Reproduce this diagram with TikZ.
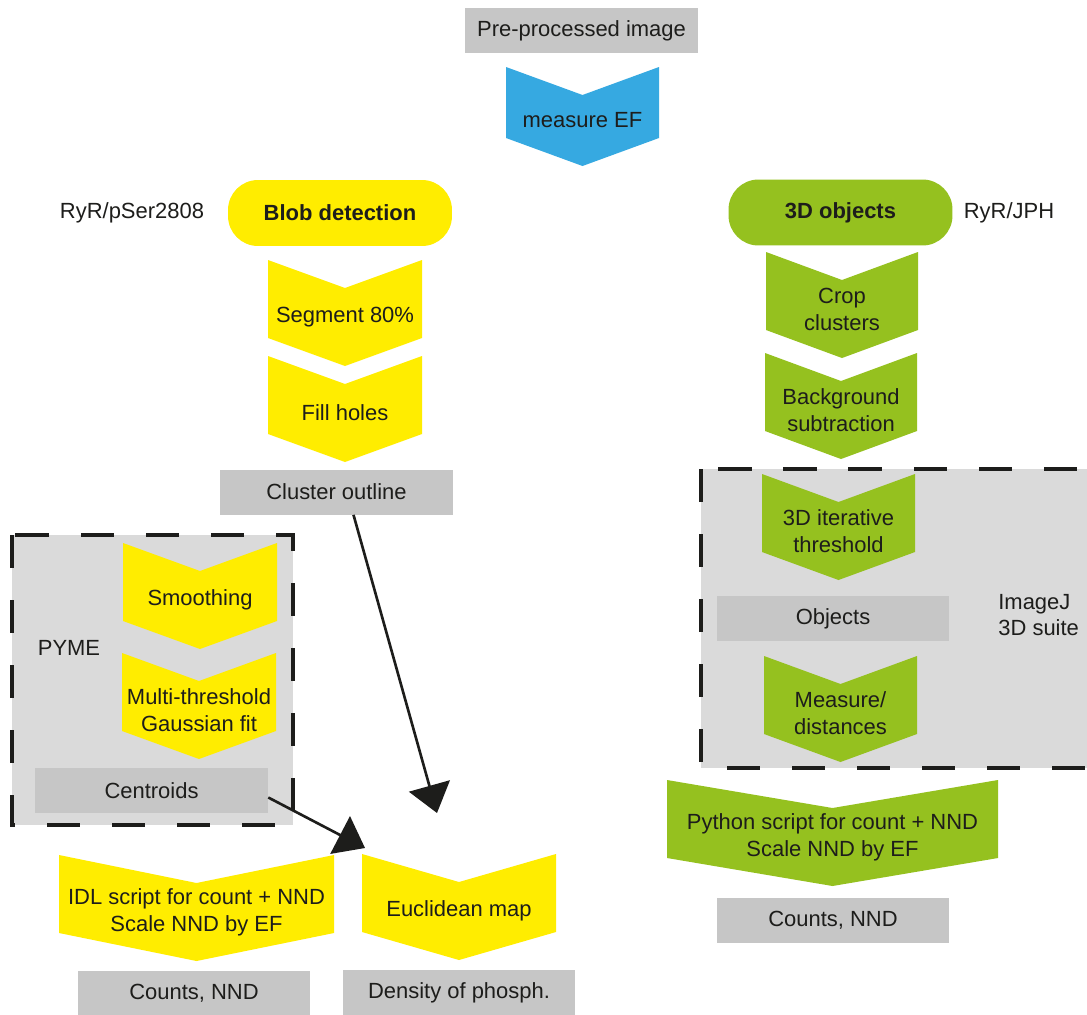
\documentclass[tikz,border=0pt]{standalone}
\usepackage{fontspec}
\setmainfont{Liberation Sans}
\usetikzlibrary{arrows.meta,calc}

\definecolor{efblue}{HTML}{36A9E1}
\definecolor{blobyellow}{HTML}{FFED00}
\definecolor{objgreen}{HTML}{95C11F}
\definecolor{boxgray}{HTML}{C6C6C6}
\definecolor{suitegray}{HTML}{DADADA}
\definecolor{ink}{HTML}{1D1D1B}

% chevron step: [height]{name}{colour}{centre x}{top y}{width}{text}
\newcommand{\chev}[7][78]{%
  \fill[#3] (#4-#6/2,#5) -- (#4,#5+28) -- (#4+#6/2,#5) -- (#4+#6/2,#5+#1)
    -- (#4,#5+#1+28) -- (#4-#6/2,#5+#1) -- cycle;
  \node[steptext] (#2) at (#4,#5+#1/2+18) {#7};
}

\begin{document}
\begin{tikzpicture}[
    x=0.02cm, y=-0.02cm,
    every node/.style={font=\fontsize{12.5}{15.3}\selectfont, text=ink},
    databox/.style={rectangle, fill=boxgray, minimum width=4.66cm, minimum height=0.9cm, inner sep=0pt},
    startbox/.style={rectangle, rounded corners=0.6cm, minimum width=4.48cm, minimum height=1.32cm, font=\fontsize{12.5}{15.3}\selectfont\bfseries},
    steptext/.style={align=center, inner sep=0pt},
    tag/.style={inner sep=0pt, align=left},
    suite/.style={fill=suitegray, draw=ink, line width=2pt, dash pattern=on 19pt off 18pt},
    flow/.style={-{Triangle[length=16pt, width=24pt]}, line width=1.5pt, draw=ink},
]
\path[fill=white, use as bounding box] (0,0) rectangle (1087,1014);

% Software blocks
\draw[suite] (12,535) rectangle (293,825);
\draw[suite] (701,469) rectangle (1110,768);

% Common start
\node[databox] (pre) at (581.5,30.5) {Pre-processed image};
\chev[71]{measure}{efblue}{582.5}{67}{153}{measure EF}

% Blob detection branch
\node[startbox, fill=blobyellow] (blob) at (340,213) {Blob detection};
\node[tag] (ryrp) at (132,213) {RyR/pSer2808};
\chev{segment}{blobyellow}{345}{260}{154}{Segment 80\%}
\chev{fillholes}{blobyellow}{345}{356}{154}{Fill holes}
\node[databox] (outline) at (336.5,492) {Cluster outline};

\node[tag] (pyme) at (69,648) {PYME};
\chev{smooth}{blobyellow}{200}{543}{154}{Smoothing}
\chev{multi}{blobyellow}{199}{653}{154}{Multi-threshold\\Gaussian fit}
\node[databox] (centroids) at (151.5,790.5) {Centroids};

\chev{idl}{blobyellow}{196.5}{855}{275}{IDL script for count + NND\\Scale NND by EF}
\chev{euclid}{blobyellow}{459}{854}{194}{Euclidean map}
\node[databox] (countsl) at (194,993) {Counts, NND};
\node[databox] (density) at (459,992.5) {Density of phosph.};

% 3D objects branch
\node[startbox, fill=objgreen] (objects3d) at (840.5,212.5) {3D objects};
\node[tag] (ryrj) at (1009,213) {RyR/JPH};
\chev{crop}{objgreen}{842}{252}{152}{Crop\\clusters}
\chev{bgsub}{objgreen}{841}{353}{152}{Background\\subtraction}
\chev{iterative}{objgreen}{838.5}{474}{153}{3D iterative\\threshold}
\node[databox] (objects) at (833,618.5) {Objects};
\node[tag, anchor=west] (imagej) at (998,615) {ImageJ\\3D suite};
\chev{distances}{objgreen}{840.5}{656}{153}{Measure/\\distances}
\chev{python}{objgreen}{832.5}{780}{331}{Python script for count + NND\\Scale NND by EF}
\node[databox] (countsr) at (833,920.5) {Counts, NND};

% Arrows
\coordinate (euclidin) at (437,813);
\coordinate (idlin) at (365,848);
\draw[flow] ([xshift=0.34cm]outline.south) -- (euclidin);
\draw[flow] ([yshift=-0.14cm]centroids.east) -- (idlin);

\end{tikzpicture}
\end{document}
